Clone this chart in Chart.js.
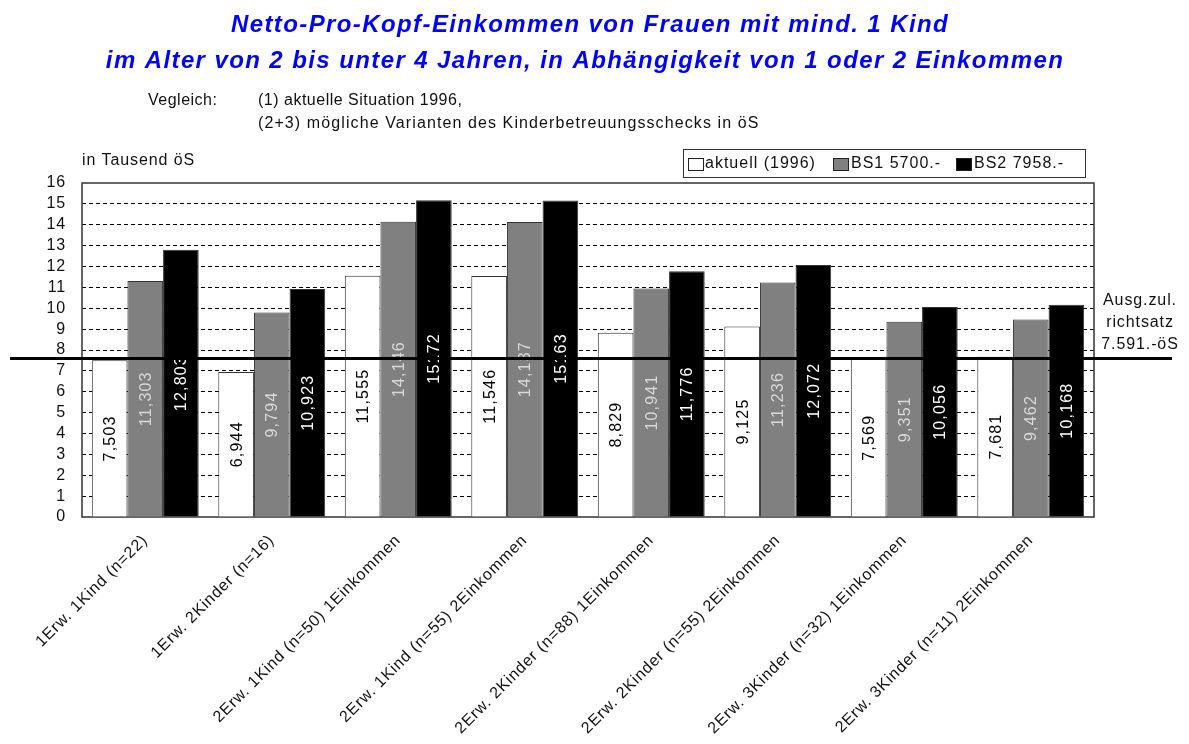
<!DOCTYPE html>
<html>
<head>
<meta charset="utf-8">
<script src="https://cdn.jsdelivr.net/npm/chart.js@4/dist/chart.umd.min.js"></script>
<style>
  html, body { margin: 0; padding: 0; background: #fff; }
  #wrap { width: 1189px; height: 744px; position: relative; }
</style>
</head>
<body>
<div id="wrap"><canvas id="chart"></canvas></div>
<script>
// ---- Data ----
const categories = [
  '1Erw. 1Kind (n=22)',
  '1Erw. 2Kinder (n=16)',
  '2Erw. 1Kind (n=50) 1Einkommen',
  '2Erw. 1Kind (n=55) 2Einkommen',
  '2Erw. 2Kinder (n=88) 1Einkommen',
  '2Erw. 2Kinder (n=55) 2Einkommen',
  '2Erw. 3Kinder (n=32) 1Einkommen',
  '2Erw. 3Kinder (n=11) 2Einkommen'
];
const seriesNames = ['aktuell (1996)', 'BS1 5700.-', 'BS2 7958.-'];
const aktuell = [7.503, 6.944, 11.555, 11.546, 8.829, 9.125, 7.569, 7.681];
const bs1     = [11.303, 9.794, 14.146, 14.137, 10.941, 11.236, 9.351, 9.462];
const bs2     = [12.803, 10.923, 15.172, 15.163, 11.776, 12.072, 10.056, 10.168];
const aktuellLabels = ['7,503', '6,944', '11,555', '11,546', '8,829', '9,125', '7,569', '7,681'];
const bs1Labels     = ['11,303', '9,794', '14,146', '14,137', '10,941', '11,236', '9,351', '9,462'];
const bs2Labels     = ['12,803', '10,923', '15172', '15163', '11,776', '12,072', '10,056', '10,168'];
const yMin = 0, yMax = 16, yStep = 1;
const richtsatz = 7.591;

const titleLines = [
  'Netto-Pro-Kopf-Einkommen von Frauen mit mind. 1 Kind',
  'im Alter von 2 bis unter 4 Jahren, in Abhängigkeit von 1 oder 2 Einkommen'
];
const FONT = "'Liberation Sans', Arial, Helvetica, sans-serif";

// ---- Styles ----
const fills  = ['#ffffff', '#808080', '#000000'];
const txtCol = ['#000000', '#d8d8d8', '#ffffff'];
const valueLabels = [aktuellLabels, bs1Labels, bs2Labels];

// the old chart has wide-tracked Helvetica, so space the letters a bit
const spacing = {
  id: 'spacing',
  beforeUpdate(chart) { chart.ctx.letterSpacing = '0.8px'; },
  beforeDraw(chart) { chart.ctx.letterSpacing = '0.8px'; }
};

// ---- Decorations: title, notes, legend, frame, value labels, line ----
const decor = {
  id: 'decor',
  beforeDatasetsDraw(chart) {
    const { ctx, chartArea: a } = chart;
    ctx.save();
    ctx.strokeStyle = '#333';
    ctx.lineWidth = 1.5;
    ctx.strokeRect(a.left, a.top, a.right - a.left, a.bottom - a.top);
    ctx.restore();
  },
  afterDatasetsDraw(chart) {
    const { ctx } = chart;
    const y = chart.scales.y;

    // value labels inside bars, rotated
    ctx.save();
    ctx.font = '16px ' + FONT;
    ctx.letterSpacing = '1.2px';
    ctx.textAlign = 'center';
    ctx.textBaseline = 'middle';
    chart.data.datasets.forEach((ds, di) => {
      chart.getDatasetMeta(di).data.forEach((bar, i) => {
        const cy = (bar.y + bar.base) / 2;
        ctx.save();
        ctx.translate(bar.x, cy);
        ctx.rotate(-Math.PI / 2);
        ctx.fillStyle = txtCol[di];
        ctx.fillText(valueLabels[di][i], 0, 1);
        ctx.restore();
      });
    });
    ctx.restore();

    // Richtsatz line
    const ly = y.getPixelForValue(richtsatz);
    ctx.save();
    ctx.strokeStyle = '#000';
    ctx.lineWidth = 3;
    ctx.beginPath();
    ctx.moveTo(10, ly);
    ctx.lineTo(1172, ly);
    ctx.stroke();
    ctx.restore();
  },
  afterDraw(chart) {
    const { ctx } = chart;
    ctx.save();
    // title
    ctx.fillStyle = '#0000ff';
    ctx.font = 'italic bold 24px ' + FONT;
    ctx.letterSpacing = '1.4px';
    ctx.textAlign = 'center';
    ctx.textBaseline = 'middle';
    ctx.fillText(titleLines[0], 590, 25);
    ctx.fillText(titleLines[1], 585, 61);

    // subtitle notes
    ctx.fillStyle = '#111';
    ctx.font = '16px ' + FONT;
    ctx.letterSpacing = '0.5px';
    ctx.textAlign = 'left';
    ctx.fillText('Vegleich:', 148, 101);
    ctx.fillText('(1) aktuelle Situation 1996,', 258, 101);
    ctx.letterSpacing = '1.1px';
    ctx.fillText('(2+3) mögliche Varianten des Kinderbetreuungsschecks in öS', 258, 124);
    ctx.letterSpacing = '0.9px';
    ctx.fillText('in Tausend öS', 82, 161);

    // right note
    ctx.textAlign = 'center';
    ctx.fillText('Ausg.zul.', 1140, 301);
    ctx.fillText('richtsatz', 1140, 323);
    ctx.fillText('7.591.-öS', 1140, 345);

    // legend box
    ctx.strokeStyle = '#333';
    ctx.lineWidth = 1;
    ctx.strokeRect(683.5, 149.5, 402, 28);
    const items = [[688, 705], [833, 851], [956, 974]];
    ctx.textAlign = 'left';
    ctx.letterSpacing = '1px';
    items.forEach((it, i) => {
      ctx.fillStyle = fills[i];
      ctx.fillRect(it[0], 158, 15, 12);
      ctx.strokeStyle = '#222';
      ctx.strokeRect(it[0] + 0.5, 158.5, 15, 12);
      ctx.fillStyle = '#111';
      ctx.fillText(seriesNames[i], it[1], 164);
    });
    ctx.restore();
  }
};

const datasets = [aktuell, bs1, bs2].map((vals, i) => ({
  label: seriesNames[i],
  data: vals,
  backgroundColor: fills[i],
  borderColor: '#333',
  borderWidth: 1,
  categoryPercentage: 0.845,
  barPercentage: 1.0
}));

new Chart(document.getElementById('chart'), {
  type: 'bar',
  data: { labels: categories, datasets },
  plugins: [spacing, decor],
  options: {
    responsive: true,
    maintainAspectRatio: false,
    animation: false,
    layout: { padding: { top: 183, right: 95, left: 0, bottom: 0 } },
    plugins: {
      legend: { display: false },
      title: { display: false },
      tooltip: { enabled: false }
    },
    scales: {
      x: {
        grid: { display: false },
        border: { display: false },
        ticks: {
          color: '#111',
          font: { family: FONT, size: 16 },
          minRotation: 45,
          maxRotation: 45,
          autoSkip: false,
          padding: 6
        },
        afterFit: (s) => { s.height = 227; }
      },
      y: {
        min: yMin,
        max: yMax,
        grid: {
          drawTicks: false,
          color: (c) => (c.tick && (c.tick.value === yMin || c.tick.value === yMax)) ? 'rgba(0,0,0,0)' : '#000',
          lineWidth: 1
        },
        border: { display: false, dash: [4, 3] },
        ticks: {
          stepSize: yStep,
          autoSkip: false,
          color: '#111',
          font: { family: FONT, size: 16 },
          padding: 16
        },
        afterFit: (s) => { s.width = 82; }
      }
    }
  }
});
</script>
</body>
</html>
